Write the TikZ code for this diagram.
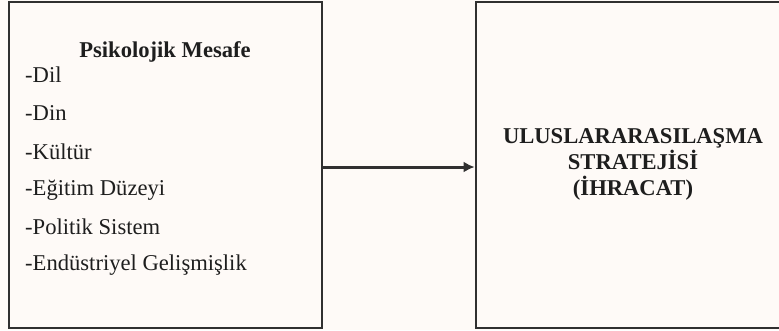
\documentclass[tikz,border=0pt]{standalone}
\usepackage{fontspec}
\setmainfont{Liberation Serif}
\usetikzlibrary{arrows.meta}
\definecolor{bg}{HTML}{FEFAF7}
\definecolor{ln}{HTML}{303030}
\definecolor{tx}{HTML}{1E1E1E}
\tikzset{
  boxstyle/.style={draw=ln, line width=2.8pt, fill=bg, inner sep=0pt},
  item/.style={anchor=west, inner sep=0pt, text=tx, font=\fontsize{22.6}{26}\selectfont},
  title/.style={inner sep=0pt, text=tx, font=\fontsize{22.6}{26}\selectfont\bfseries},
  conn/.style={draw=ln, line width=3pt, -{Latex[length=11pt,width=11pt]}}
}
\begin{document}
\begin{tikzpicture}[x=1pt,y=-1pt]
\clip (0,0) rectangle (779,330);
\fill[bg] (0,0) rectangle (779,330);
\node[boxstyle, minimum width=313pt, minimum height=326pt] (lbox) at (165.5,165) {};
\node[boxstyle, minimum width=330pt, minimum height=326pt] (rbox) at (641,165) {};
\node[title] (ttl) at (165,52) {Psikolojik Mesafe};
\node[item] (i1) at (25,75) {-Dil};
\node[item] (i2) at (25,113) {-Din};
\node[item] (i3) at (25,152) {-Kültür};
\node[item] (i4) at (25,190) {-Eğitim Düzeyi};
\node[item] (i5) at (25,227) {-Politik Sistem};
\node[item] (i6) at (25,265) {-Endüstriyel Gelişmişlik};
\node[title, align=center, font=\fontsize{22.6}{26}\selectfont\bfseries] (rt) at (633,164) {ULUSLARARASILAŞMA\\STRATEJİSİ\\(İHRACAT)};
\draw[conn] ([yshift=-2pt]lbox.east) -- ([yshift=-2pt]rbox.west);
\end{tikzpicture}
\end{document}
